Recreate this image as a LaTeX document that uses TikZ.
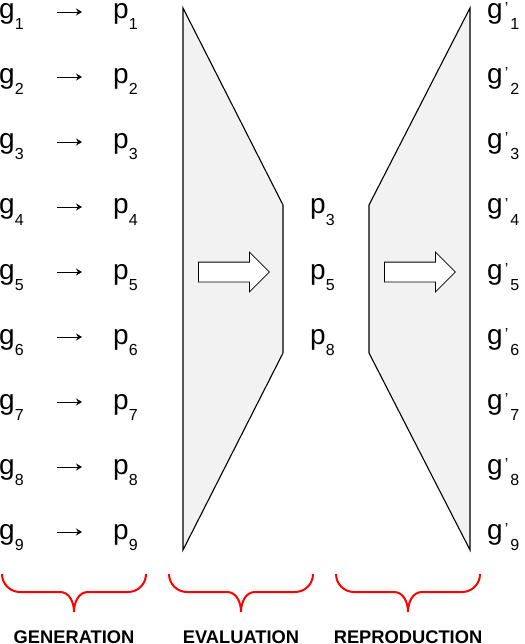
\documentclass[tikz,border=0pt]{standalone}
\usepackage{fontspec}
\setmainfont{Liberation Sans}
\usetikzlibrary{arrows.meta,shapes.arrows}

\definecolor{funnelgray}{HTML}{F2F2F2}

% subscript and primed genome labels
\newcommand{\sub}[1]{{\fontsize{16}{16}\selectfont\raisebox{-11pt}{#1}}}
\newcommand{\gpr}[1]{g{\fontsize{16}{16}\selectfont\kern2pt\raisebox{5pt}{'}\kern2pt\raisebox{-11pt}{#1}}}

\begin{document}
\begin{tikzpicture}[
    x=1pt, y=1pt,
    % Genome / phenotype labels
    lbl/.style={font=\fontsize{28}{30}\selectfont, inner sep=0pt, anchor=base west},
    % Mapping arrow g -> p
    arr/.style={-{Stealth[length=6pt,width=7pt,inset=2pt]}, line width=0.9pt,
        shorten <=33.5pt, shorten >=31pt},
    % Funnel shapes
    funnel/.style={draw, fill=funnelgray, line width=1.1pt, line join=miter},
    % Hollow block arrow
    blockarr/.style={single arrow, draw, fill=white, line width=0.8pt,
        inner xsep=0pt, inner ysep=9.5pt, minimum height=71pt,
        single arrow head extend=10pt, anchor=tail},
    % Red phase brace
    phasebrace/.style={draw=red, line width=2pt},
    % Phase label
    phase/.style={font=\fontsize{18.3}{20}\selectfont\bfseries, inner sep=0pt, anchor=base},
]
\useasboundingbox (0,0) rectangle (524,-644);

% ============================================================
% GENERATION: genomes g_i mapped to phenotypes p_i
% ============================================================
\node[lbl] (g1) at (-1,-19) {g\sub{1}};
\node[lbl] (g2) at (-1,-84) {g\sub{2}};
\node[lbl] (g3) at (-1,-149) {g\sub{3}};
\node[lbl] (g4) at (-1,-214) {g\sub{4}};
\node[lbl] (g5) at (-1,-279) {g\sub{5}};
\node[lbl] (g6) at (-1,-344) {g\sub{6}};
\node[lbl] (g7) at (-1,-409) {g\sub{7}};
\node[lbl] (g8) at (-1,-474) {g\sub{8}};
\node[lbl] (g9) at (-1,-539) {g\sub{9}};

\node[lbl] (p1) at (113,-19) {p\sub{1}};
\node[lbl] (p2) at (113,-84) {p\sub{2}};
\node[lbl] (p3) at (113,-149) {p\sub{3}};
\node[lbl] (p4) at (113,-214) {p\sub{4}};
\node[lbl] (p5) at (113,-279) {p\sub{5}};
\node[lbl] (p6) at (113,-344) {p\sub{6}};
\node[lbl] (p7) at (113,-409) {p\sub{7}};
\node[lbl] (p8) at (113,-474) {p\sub{8}};
\node[lbl] (p9) at (113,-539) {p\sub{9}};

% Mapping arrows
\draw[arr] ([yshift=7pt]g1.base east) -- ([yshift=7pt]p1.base west);
\draw[arr] ([yshift=7pt]g2.base east) -- ([yshift=7pt]p2.base west);
\draw[arr] ([yshift=7pt]g3.base east) -- ([yshift=7pt]p3.base west);
\draw[arr] ([yshift=7pt]g4.base east) -- ([yshift=7pt]p4.base west);
\draw[arr] ([yshift=7pt]g5.base east) -- ([yshift=7pt]p5.base west);
\draw[arr] ([yshift=7pt]g6.base east) -- ([yshift=7pt]p6.base west);
\draw[arr] ([yshift=7pt]g7.base east) -- ([yshift=7pt]p7.base west);
\draw[arr] ([yshift=7pt]g8.base east) -- ([yshift=7pt]p8.base west);
\draw[arr] ([yshift=7pt]g9.base east) -- ([yshift=7pt]p9.base west);

% ============================================================
% EVALUATION: funnel narrowing to the selected phenotypes
% ============================================================
\draw[funnel] (183,-8) -- (283,-205) -- (283,-353) -- (183,-550) -- cycle;
\node[blockarr] (evalarr) at (198,-272) {};

\node[lbl] (m3) at (310,-214) {p\sub{3}};
\node[lbl] (m5) at (310,-279) {p\sub{5}};
\node[lbl] (m8) at (310,-344) {p\sub{8}};

% ============================================================
% REPRODUCTION: funnel widening to the new genomes g'_i
% ============================================================
\draw[funnel] (470,-8) -- (369,-205) -- (369,-353) -- (470,-550) -- cycle;
\node[blockarr] (reprarr) at (384,-272) {};

\node[lbl] (q1) at (487,-19) {\gpr{1}};
\node[lbl] (q2) at (487,-84) {\gpr{2}};
\node[lbl] (q3) at (487,-149) {\gpr{3}};
\node[lbl] (q4) at (487,-214) {\gpr{4}};
\node[lbl] (q5) at (487,-279) {\gpr{5}};
\node[lbl] (q6) at (487,-344) {\gpr{6}};
\node[lbl] (q7) at (487,-409) {\gpr{7}};
\node[lbl] (q8) at (487,-474) {\gpr{8}};
\node[lbl] (q9) at (487,-539) {\gpr{9}};

% ============================================================
% Braces and phase labels
% ============================================================
\draw[phasebrace] (2,-574) to[out=-90,in=180] (20,-592) -- (60,-592)
    to[out=0,in=90] (74,-612) to[out=90,in=180] (88,-592) -- (128,-592)
    to[out=0,in=-90] (146,-574);
\draw[phasebrace] (169,-574) to[out=-90,in=180] (187,-592) -- (227,-592)
    to[out=0,in=90] (241,-612) to[out=90,in=180] (255,-592) -- (295,-592)
    to[out=0,in=-90] (313,-574);
\draw[phasebrace] (336,-574) to[out=-90,in=180] (354,-592) -- (394,-592)
    to[out=0,in=90] (408,-612) to[out=90,in=180] (422,-592) -- (462,-592)
    to[out=0,in=-90] (480,-574);

\node[phase] (lgen) at (74,-643) {GENERATION};
\node[phase] (leval) at (241,-643) {EVALUATION};
\node[phase] (lrepr) at (408,-643) {REPRODUCTION};

\end{tikzpicture}
\end{document}
